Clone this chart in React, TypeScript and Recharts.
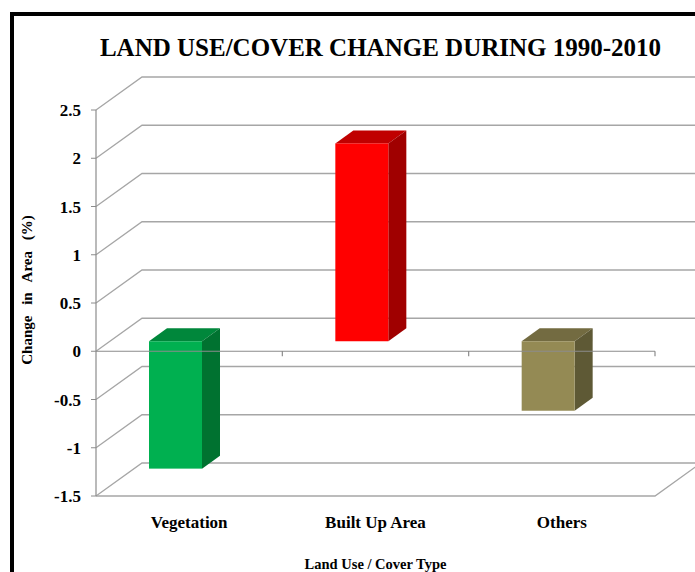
import { BarChart, Bar, XAxis, YAxis, CartesianGrid, ReferenceLine } from "recharts"

const categories = ["Vegetation", "Built Up Area", "Others"]
const changes = [-1.32, 2.05, -0.72]
const yTicks = [-1.5, -1, -0.5, 0, 0.5, 1, 1.5, 2, 2.5]

const FRONT = ["#00b050", "#ff0000", "#948a54"]
const TOP = ["#00873b", "#c00000", "#736b41"]
const SIDE = ["#007230", "#a00000", "#5e5935"]

const data = categories.map((name, i) => ({ name, change: changes[i] }))

// depth of the back wall and of each column (fake 3d)
const DX = 46
const DY = 33
const BDX = 18
const BDY = 13
const SHIFT_X = -14
const SHIFT_Y = -10

const GRID = "#a6a6a6"
const AXIS = "#8c8c8c"
const FONT = "'Liberation Serif', 'Times New Roman', serif"

const gridLine = (p: any) => {
  const { x1, y1, x2 } = p
  const d = `M${x1},${y1} L${x1 + DX},${y1 - DY} L${x2 + DX + 80},${y1 - DY}`
  return <path key={`g-${p.index}-${y1}`} d={d} stroke={GRID} strokeWidth={1.3} fill="none" />
}

const floorShape = (p: any) => {
  const { x1, y1, x2 } = p
  return (
    <path
      d={`M${x1},${y1} L${x2},${y1} L${x2 + DX},${y1 - DY}`}
      stroke={GRID}
      strokeWidth={1.3}
      fill="none"
    />
  )
}

const zeroShape = (p: any) => {
  const { x1, y1, x2 } = p
  const n = categories.length
  const step = (x2 - x1) / n
  let d = `M${x1},${y1} L${x2},${y1}`
  for (let k = 1; k <= n; k++) d += ` M${x1 + k * step},${y1} L${x1 + k * step},${y1 + 5}`
  return <path d={d} stroke={AXIS} strokeWidth={1.2} fill="none" />
}

const renderBox = (p: any) => {
  const i = p.index
  const top = Math.min(p.y, p.y + p.height) + SHIFT_Y
  const bottom = Math.max(p.y, p.y + p.height) + SHIFT_Y
  const l = p.x + SHIFT_X
  const r = l + p.width
  return (
    <g>
      <polygon
        points={`${l},${top} ${r},${top} ${r + BDX},${top - BDY} ${l + BDX},${top - BDY}`}
        fill={TOP[i]}
      />
      <polygon
        points={`${r},${top} ${r + BDX},${top - BDY} ${r + BDX},${bottom - BDY} ${r},${bottom}`}
        fill={SIDE[i]}
      />
      <rect x={l} y={top} width={p.width} height={bottom - top} fill={FRONT[i]} />
    </g>
  )
}

export default function App() {
  return (
    <div style={{ position: "relative", width: 695, height: 572, overflow: "hidden", background: "#fff" }}>
      <style>{"body{margin:0}"}</style>
      <div
        style={{
          position: "absolute",
          left: 10,
          top: 12,
          width: 900,
          height: 900,
          borderLeft: "4px solid #000",
          borderTop: "4px solid #000",
        }}
      />
      <div
        style={{
          position: "absolute",
          left: 0,
          top: 36,
          width: 761,
          textAlign: "center",
          fontFamily: FONT,
          fontWeight: "bold",
          fontSize: 25,
          lineHeight: "24px",
          whiteSpace: "nowrap",
          color: "#000",
        }}
      >
        LAND USE/COVER CHANGE DURING 1990-2010
      </div>
      <div style={{ position: "absolute", left: 0, top: 0 }}>
        <BarChart width={695} height={572} data={data} margin={{ top: 110, right: 40, left: 0, bottom: 0 }}>
          <CartesianGrid vertical={false} horizontal={gridLine} />
          <XAxis
            dataKey="name"
            height={76}
            axisLine={false}
            tickLine={false}
            tickMargin={14}
            tick={{ fill: "#000", fontSize: 17, fontWeight: "bold", fontFamily: FONT }}
            label={(props: any) => {
              const vb = props.viewBox
              return (
                <text
                  x={vb.x + vb.width / 2}
                  y={vb.y + 73}
                  textAnchor="middle"
                  fontFamily={FONT}
                  fontWeight="bold"
                  fontSize={14.5}
                  fill="#000"
                >
                  Land Use / Cover Type
                </text>
              )
            }}
          />
          <YAxis
            width={96}
            domain={[-1.5, 2.5]}
            ticks={yTicks}
            interval={0}
            axisLine={{ stroke: AXIS, strokeWidth: 1.2 }}
            tickLine={{ stroke: AXIS }}
            tickSize={5}
            tickMargin={10}
            tick={{ fill: "#000", fontSize: 17, fontWeight: "bold", fontFamily: FONT }}
            label={(props: any) => {
              const vb = props.viewBox
              const cx = vb.x + 27
              const cy = vb.y + vb.height / 2 - 13
              return (
                <text
                  x={cx}
                  y={cy}
                  transform={`rotate(-90 ${cx} ${cy})`}
                  textAnchor="middle"
                  dominantBaseline="central"
                  fontFamily={FONT}
                  fontWeight="bold"
                  fontSize={15}
                  fill="#000"
                  style={{ wordSpacing: 7 }}
                >
                  Change in Area (%)
                </text>
              )
            }}
          />
          <ReferenceLine y={yTicks[0]} shape={floorShape} zIndex={-50} />
          <Bar dataKey="change" barSize={53} isAnimationActive={false} shape={renderBox} />
          <ReferenceLine y={0} shape={zeroShape} zIndex={600} />
        </BarChart>
      </div>
    </div>
  )
}
